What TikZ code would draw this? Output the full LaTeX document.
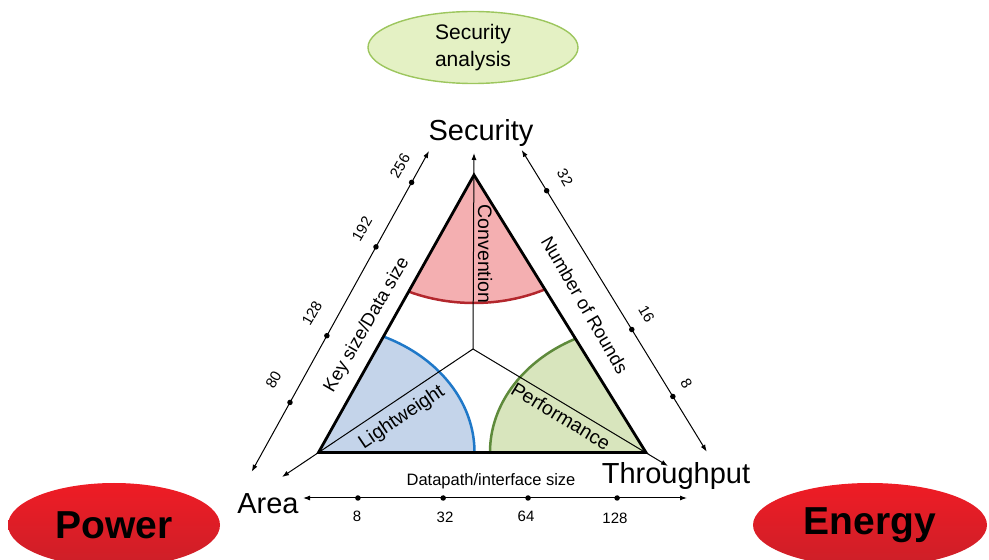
\documentclass[tikz,border=0pt]{standalone}
\usepackage{fontspec}
\setmainfont{Liberation Sans}
\usetikzlibrary{arrows.meta,shapes.geometric}
\definecolor{redfill}{HTML}{F4AFB1}
\definecolor{redline}{HTML}{B3272D}
\definecolor{bluefill}{HTML}{C4D4EA}
\definecolor{blueline}{HTML}{1F78C8}
\definecolor{greenfill}{HTML}{D8E5BD}
\definecolor{greenline}{HTML}{5E8A3B}
\definecolor{safill}{HTML}{E4F1C4}
\definecolor{saline}{HTML}{9DC65E}
\definecolor{redtop}{HTML}{EF1C25}
\definecolor{redbot}{HTML}{CC1F28}
\begin{document}
\begin{tikzpicture}[x=1pt,y=1pt,
  axis/.style={line width=1pt,{Latex[length=7pt,width=5pt]}-{Latex[length=7pt,width=5pt]}},
  ray/.style={line width=1pt,-{Latex[length=7pt,width=5pt]}},
  dot/.style={circle,fill=black,inner sep=0pt,minimum size=5.5pt},
  big/.style={font=\fontsize{29}{32}\selectfont},
  num/.style={font=\fontsize{15}{17}\selectfont},
  inner/.style={font=\fontsize{18.5}{20}\selectfont},
  innerb/.style={font=\fontsize{19.5}{21}\selectfont},
  bubble/.style={ellipse,inner sep=0pt,top color=redtop,bottom color=redbot,draw=none,
                 font=\fontsize{39}{42}\selectfont\bfseries}
]
\useasboundingbox (0,0) rectangle (989,560);

% triangle corners and centre
\coordinate (A) at (474,385);
\coordinate (BL) at (318.5,107.5);
\coordinate (BR) at (646,107.5);
\coordinate (C) at (473,211);

% sectors
\begin{scope}
  \clip (A) -- (BL) -- (BR) -- cycle;
  \fill[redfill] (A) ellipse[x radius=158,y radius=128];
  \draw[redline,line width=2.5pt] (A) ellipse[x radius=158,y radius=128];
  \fill[bluefill] (BL) ellipse[x radius=156,y radius=127.5];
  \draw[blueline,line width=2.5pt] (BL) ellipse[x radius=156,y radius=127.5];
  \fill[greenfill] (BR) ellipse[x radius=156,y radius=127.5];
  \draw[greenline,line width=2.5pt] (BR) ellipse[x radius=156,y radius=127.5];
\end{scope}

% axis labels
\node[big] (sec) at (481,427) {Security};
\node[big] (area) at (268,56) {Area};
\node[big] (thr) at (676,84) {Throughput};

% rays from centre
\coordinate (Stip) at (474,407);
\coordinate (Atip) at (282,83);
\coordinate (Ttip) at (668,94);
\draw[ray] (C) -- (Stip);
\draw[ray] (C) -- (Atip);
\draw[ray] (C) -- (Ttip);

% triangle
\draw[line width=2.8pt,line join=miter] (A) -- (BL) -- (BR) -- cycle;

% left axis
\coordinate (L0) at (251.7,88.3);
\coordinate (L1) at (429,409);
\draw[axis] (L0) -- (L1)
  node[dot,pos=0.216] (d80) {}
  node[dot,pos=0.424] (d128) {}
  node[dot,pos=0.701] (d192) {}
  node[dot,pos=0.902] (d256) {};
\node[num,rotate=60] at (273.5,180) {80};
\node[num,rotate=60] at (312,246.5) {128};
\node[num,rotate=60] at (362,331) {192};
\node[num,rotate=60] at (400,394) {256};

% right axis
\coordinate (R0) at (521.7,410);
\coordinate (R1) at (706.7,108.3);
\draw[axis] (R0) -- (R1)
  node[dot,pos=0.135] (d32) {}
  node[dot,pos=0.595] (d16) {}
  node[dot,pos=0.817] (d8) {};
\node[num,rotate=-60] at (565,382.5) {32};
\node[num,rotate=-60] at (646.5,246) {16};
\node[num,rotate=-60] at (686.5,176) {8};

% bottom axis
\coordinate (B0) at (303,62);
\coordinate (B1) at (687,62);
\draw[axis] (B0) -- (B1)
  node[dot,pos=0.143] (b8) {}
  node[dot,pos=0.365] (b32) {}
  node[dot,pos=0.586] (b64) {}
  node[dot,pos=0.818] (b128) {};
\node[num] at (357,44) {8};
\node[num] at (445,43) {32};
\node[num] at (526,44) {64};
\node[num] at (615,42) {128};
\node[font=\fontsize{16.5}{18}\selectfont] (dp) at (491,79) {Datapath/interface size};

% inner labels
\node[innerb,rotate=-90] (conv) at (485,306) {Convention};
\node[inner,rotate=60] (key) at (367,235) {Key size/Data size};
\node[inner,rotate=-60] (rounds) at (585,255) {Number of Rounds};
\node[innerb,rotate=34] (light) at (402,142.5) {Lightweight};
\node[innerb,rotate=-31] (perf) at (561,144) {Performance};

% ellipses
\node[ellipse,minimum width=210pt,minimum height=72pt,inner sep=0pt,fill=safill,draw=saline,line width=1.4pt,
      align=center,font=\fontsize{21}{27}\selectfont] (sa) at (473,512.5) {Security\\analysis};
\node[bubble,minimum width=212pt,minimum height=84pt] (pow) at (114,35) {Power};
\node[bubble,minimum width=234pt,minimum height=84pt] (en) at (870,35) {Energy};
\end{tikzpicture}
\end{document}
